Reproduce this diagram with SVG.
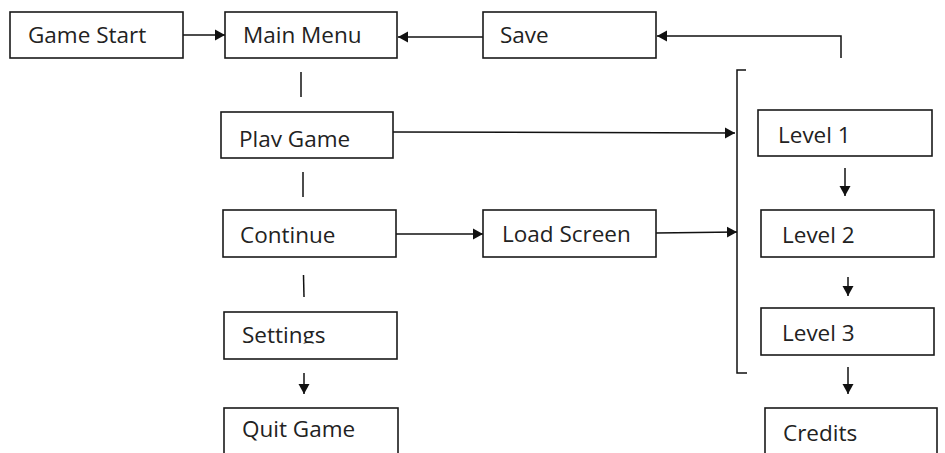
<svg xmlns="http://www.w3.org/2000/svg" width="945" height="453" viewBox="0 0 945 453">
<style>
.box{fill:#fff;stroke:#1a1a1a;stroke-width:1.6}
.lbl{font-family:"Open Sans","Liberation Sans",sans-serif;font-size:22.5px;fill:#222}
.con{fill:none;stroke:#111;stroke-width:1.5}
</style>
<defs>
<marker id="ah" markerUnits="userSpaceOnUse" markerWidth="11" markerHeight="12" refX="10" refY="6" orient="auto">
<path d="M0,0.5 L10,6 L0,11.5 z" fill="#111"/>
</marker>
<clipPath id="cPlay"><rect x="215" y="105" width="190" height="42"/></clipPath>
<clipPath id="cSet"><rect x="215" y="305" width="190" height="38.5"/></clipPath>
</defs>
<rect width="945" height="453" fill="#fff"/>
<g id="connectors">
<line class="con" x1="183" y1="35" x2="225" y2="35" marker-end="url(#ah)"/>
<line class="con" x1="483" y1="37" x2="398" y2="37" marker-end="url(#ah)"/>
<polyline class="con" points="841,58 841,36 657,36" marker-end="url(#ah)"/>
<line class="con" x1="301" y1="72" x2="301" y2="97"/>
<line class="con" x1="393" y1="132" x2="735" y2="133" marker-end="url(#ah)"/>
<line class="con" x1="303" y1="172" x2="303" y2="197"/>
<line class="con" x1="396" y1="234" x2="483" y2="234" marker-end="url(#ah)"/>
<line class="con" x1="656" y1="233" x2="737" y2="232" marker-end="url(#ah)"/>
<line class="con" x1="303.5" y1="275" x2="304" y2="297"/>
<line class="con" x1="304" y1="373" x2="304" y2="394" marker-end="url(#ah)"/>
<line class="con" x1="845" y1="168" x2="845" y2="196" marker-end="url(#ah)"/>
<line class="con" x1="848" y1="277" x2="848" y2="296" marker-end="url(#ah)"/>
<line class="con" x1="848" y1="367" x2="848" y2="394" marker-end="url(#ah)"/>
<path class="con" d="M746,70 H737 V373 H747"/>
</g>
<g id="game-start"><rect class="box" x="10" y="12" width="173" height="46"/><text class="lbl" x="28" y="43">Game Start</text></g>
<g id="main-menu"><rect class="box" x="225" y="12" width="172" height="46"/><text class="lbl" x="243" y="43">Main Menu</text></g>
<g id="save"><rect class="box" x="483" y="12" width="173" height="46"/><text class="lbl" x="500" y="43">Save</text></g>
<g id="play-game"><rect class="box" x="221" y="112" width="172" height="46"/><text class="lbl" x="239" y="147" clip-path="url(#cPlay)">Play Game</text></g>
<g id="continue"><rect class="box" x="223" y="210" width="173" height="47"/><text class="lbl" x="240" y="243">Continue</text></g>
<g id="load-screen"><rect class="box" x="483" y="210" width="173" height="47"/><text class="lbl" x="502" y="242">Load Screen</text></g>
<g id="settings"><rect class="box" x="224" y="312" width="173" height="47"/><text class="lbl" x="242" y="343" clip-path="url(#cSet)">Settings</text></g>
<g id="quit-game"><rect class="box" x="224" y="408" width="174" height="60"/><text class="lbl" x="242" y="437">Quit Game</text></g>
<g id="level-1"><rect class="box" x="758" y="110" width="174" height="46"/><text class="lbl" x="778" y="143">Level 1</text></g>
<g id="level-2"><rect class="box" x="761" y="210" width="173" height="47"/><text class="lbl" x="782" y="243">Level 2</text></g>
<g id="level-3"><rect class="box" x="761" y="308" width="173" height="47"/><text class="lbl" x="782" y="341">Level 3</text></g>
<g id="credits"><rect class="box" x="765" y="408" width="172" height="60"/><text class="lbl" x="783" y="441">Credits</text></g>
</svg>
